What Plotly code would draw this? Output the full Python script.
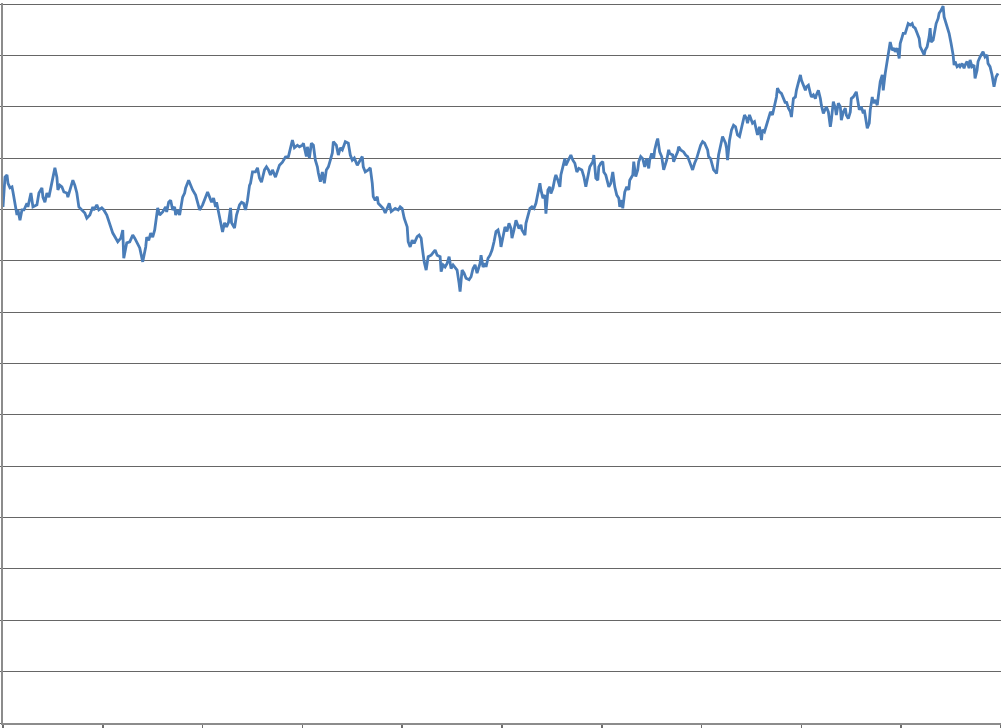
import plotly.graph_objects as go

# Day index (horizontal position of each sample) and series value
day = [
    0, 2, 4, 5, 7, 9, 10, 12, 14, 15, 17, 19, 21, 24, 25, 28, 30, 34, 36, 39, 40, 42, 44, 46, 49, 50,
    52, 54, 55, 57, 59, 61, 64, 65, 68, 70, 72, 74, 76, 79, 82, 84, 87, 90, 91, 94, 96, 99, 101, 104,
    107, 110, 113, 115, 118, 120, 121, 124, 127, 130, 132, 134, 137, 140,
    143, 144, 146, 148, 150, 152, 153, 155, 157, 160, 163, 164, 166, 168, 170, 172, 173, 175, 177, 178,
    180, 182, 183, 186, 188, 190, 193, 195, 197, 200, 203, 205, 207, 209, 211, 213, 214, 216, 218, 220,
    222, 224, 226, 228, 229, 232, 234, 237, 239, 241, 243, 245, 247, 248, 250, 253, 255, 257, 259, 262,
    264, 266, 268, 270, 273, 275, 277, 280, 283,
    286, 288, 290, 292, 295, 297, 300, 301, 304, 305, 307, 309, 311, 313, 315, 316, 318, 320, 322, 324,
    326, 328, 330, 331, 334, 336, 338, 340, 343, 346, 348, 350, 352, 355, 357, 360, 361, 363, 366, 368,
    370, 371, 373, 375, 376, 379, 381, 383, 385, 387, 389, 391, 393, 396, 398, 400, 402, 405, 406, 408,
    410, 412, 415, 417, 419, 420, 422, 424, 426,
    429, 431, 433, 435, 438, 439, 441, 443, 445, 447, 449, 451, 453, 455, 457, 458, 460, 462, 464, 467,
    469, 471, 473, 475, 478, 479, 481, 483, 484, 486, 488, 490, 492, 494, 496, 498, 499, 501, 503, 505,
    507, 509, 510, 512, 514, 517, 519, 520, 523, 524, 526, 528, 530, 532, 534, 536, 538, 539, 541, 543,
    544, 546, 548, 549, 551, 553, 554, 556, 558, 559, 561, 563, 564, 566, 569,
    571, 573, 575, 577, 580, 582, 584, 586, 588, 591, 592, 594, 596, 597, 599, 601, 602, 604, 606, 607,
    609, 611, 613, 615, 617, 618, 620, 621, 623, 625, 627, 628, 631, 632, 634, 636, 637, 639, 641, 643,
    645, 647, 648, 650, 652, 653, 655, 656, 658, 660, 662, 663, 665, 667, 668, 671, 672, 674, 676, 677,
    679, 682, 684, 686, 688, 691, 693, 695, 697, 699, 701, 703, 706, 707, 709, 712,
    714, 715, 717, 719, 721, 724, 725, 726, 728, 730, 732, 734, 736, 738, 740, 743, 745, 746, 748, 750,
    751, 753, 755, 756, 758, 760, 761, 763, 765, 767, 769, 771, 773, 775, 776, 778, 780, 782, 784, 785,
    787, 789, 790, 792, 794, 795, 797, 799, 800, 802, 804, 805, 807, 809, 810, 812, 814, 815, 817, 819,
    820, 822, 824, 825, 827, 829, 830, 832, 834, 835, 837, 839, 840, 842, 844, 845, 847, 849, 850, 852, 855,
    857, 858, 860, 862, 863, 865, 866, 868, 869, 871, 872, 874, 876, 877, 879, 881, 882, 884, 886, 888,
    889, 891, 893, 894, 896, 898, 899, 901, 902, 904, 906, 907, 909, 911, 912, 914, 916, 918, 919, 921,
    923, 924, 926, 928, 929, 930, 932, 933, 935, 937, 938, 940, 942, 943, 945, 947, 948, 950, 952, 953,
    954, 956, 958, 959, 961, 963, 964, 966, 968, 969, 971, 973, 974, 976, 977, 979, 981, 982, 984, 986,
    987, 989, 991, 992, 993, 995, 997,
]

value = [
    100.5, 106.3, 106.7, 105.1, 104.2, 104.4, 103.4, 101.2, 98.9, 99.9, 97.9, 99.9, 99.9, 101.2, 100.5,
    103.2, 100.5, 100.9, 103.2, 104.2, 102.4, 101.4, 103.2, 102.4, 105.3, 106.3, 108.1, 106.3, 103.8,
    104.7, 104.4, 103.4, 103.2, 102.4, 104.7, 105.7, 104.7, 103.2, 100.5, 99.9, 99.3, 98.3, 98.9, 100.5,
    99.9, 100.9, 99.9, 100.3, 99.9, 98.9, 97.0, 95.4, 94.4, 93.7, 94.4, 96.0, 90.5, 93.5, 93.7, 95.0,
    94.4, 93.7, 92.5, 89.8,
    92.7, 94.6, 94.0, 95.4, 94.6, 96.0, 97.9, 100.3, 98.9, 99.5, 100.5, 99.5, 101.4, 101.8, 99.9, 100.5,
    98.9, 99.9, 98.9, 100.3, 102.4, 103.2, 104.2, 105.7, 104.7, 103.8, 102.8, 101.4, 99.9, 100.9, 102.4,
    103.4, 102.4, 101.4, 102.2, 100.5, 101.4, 99.5, 97.9, 95.6, 97.4, 96.6, 97.5, 100.3, 97.4, 96.4,
    98.9, 100.9, 101.4, 101.2, 99.9, 101.8, 104.7, 105.1, 107.3, 107.3, 108.1, 106.1, 105.3, 107.7,
    108.3, 107.7, 106.7, 107.7, 106.3, 107.3, 108.6, 109.2, 110.2,
    110.3, 112.0, 113.5, 112.0, 112.5, 112.2, 112.5, 112.9, 110.3, 112.2, 110.0, 112.9, 112.5, 109.6,
    108.3, 107.1, 105.4, 107.3, 105.1, 107.7, 108.3, 109.6, 111.0, 113.2, 112.5, 110.6, 112.0, 111.6,
    113.2, 112.9, 110.6, 109.6, 110.0, 108.6, 109.3, 110.3, 108.3, 107.3, 107.7, 108.1, 105.1, 102.5,
    101.8, 102.5, 101.2, 100.5, 100.2, 99.3, 100.2, 101.2, 99.6, 99.9, 100.2, 99.9, 100.5, 100.2, 98.3,
    96.6, 93.7, 92.7, 94.0, 93.4, 94.7, 95.0, 94.4, 92.7, 89.8, 88.2, 90.8,
    91.1, 91.5, 92.1, 91.1, 90.8, 87.9, 89.2, 88.8, 89.5, 90.8, 88.5, 89.2, 88.8, 88.2, 85.6, 84.0,
    88.2, 87.6, 86.6, 86.3, 86.9, 88.5, 89.2, 87.6, 89.5, 91.1, 88.8, 89.5, 88.8, 90.5, 91.1, 92.1,
    93.7, 95.7, 96.0, 94.4, 92.7, 95.0, 96.6, 95.7, 97.3, 96.3, 94.4, 96.0, 97.9, 96.3, 97.0, 96.0,
    95.0, 97.3, 98.6, 100.2, 100.5, 100.2, 101.2, 103.1, 105.1, 103.8, 102.2, 102.8, 99.2, 103.8,
    104.4, 103.1, 104.1, 106.1, 106.7, 105.7, 104.4, 106.7, 108.3, 109.9, 108.6, 109.3, 110.6,
    109.6, 109.0, 107.3, 108.0, 107.7, 106.4, 104.4, 106.1, 108.3, 109.3, 110.6, 106.1, 105.7, 108.3,
    109.0, 109.3, 107.3, 106.7, 105.4, 104.4, 105.1, 107.3, 104.4, 102.8, 102.2, 100.5, 101.8, 100.2,
    103.4, 104.4, 103.8, 105.7, 106.7, 109.3, 106.4, 107.7, 109.3, 110.3, 109.9, 108.3, 109.9, 108.0,
    109.6, 110.9, 109.9, 111.6, 113.2, 113.8, 111.2, 110.3, 107.7, 108.3, 109.6, 111.6, 110.9, 110.6,
    109.3, 110.3, 111.2, 112.2, 111.6, 111.2, 110.6, 110.3, 109.3, 107.7, 109.0, 109.9, 111.2, 112.5,
    113.2, 112.9, 111.6, 110.3, 109.9, 107.7,
    107.3, 107.0, 110.6, 112.5, 114.2, 112.9, 111.9, 109.6, 113.5, 115.5, 116.4, 116.1, 114.5, 114.2,
    116.1, 118.4, 117.7, 116.8, 118.4, 117.4, 116.8, 117.1, 115.5, 114.5, 116.1, 113.5, 115.5, 115.1,
    116.4, 117.7, 119.0, 118.4, 120.3, 121.9, 123.6, 122.9, 122.6, 121.6, 120.7, 121.0, 119.7, 119.0,
    118.0, 121.6, 121.9, 123.2, 124.5, 126.2, 125.2, 124.2, 123.2, 123.9, 124.2, 122.6, 121.9, 122.3,
    121.6, 122.3, 123.2, 121.6, 120.3, 118.7, 119.7, 120.0, 119.0, 116.1, 117.4, 121.0, 119.7, 118.4,
    120.7, 120.0, 117.4, 119.0, 119.7, 118.4, 117.7, 119.0, 121.6, 121.9, 122.9,
    120.0, 119.4, 120.0, 118.7, 119.4, 117.4, 115.8, 116.8, 119.4, 121.9, 120.7, 121.3, 120.3, 121.9,
    124.9, 126.2, 123.2, 126.5, 128.8, 131.7, 132.6, 131.0, 131.4, 130.7, 131.4, 129.4, 132.3, 133.6,
    134.3, 134.3, 135.6, 136.2, 135.9, 136.2, 135.6, 135.3, 134.3, 133.3, 131.7, 130.7, 130.1, 131.0,
    131.7, 133.6, 135.3, 132.6, 133.0, 134.0, 136.2, 137.2, 138.2, 138.8, 139.6, 137.5, 136.2, 134.9,
    134.3, 132.3, 130.1, 128.1, 128.8, 127.8, 128.1, 127.8, 128.4, 127.5, 128.1, 128.8, 127.5, 129.1,
    127.8, 128.1, 125.5, 127.1, 128.8, 129.7, 130.4, 130.7, 129.7, 130.1, 128.4, 127.8, 126.2, 124.9,
    123.9, 125.8, 126.5,
]

x_ticks = [0, 100, 200, 300, 400, 500, 600, 700, 800, 900, 1000]

fig = go.Figure()
fig.add_trace(go.Scatter(
    x=day, y=value, mode="lines",
    line=dict(color="#4a7db8", width=2.8),
    hoverinfo="skip", showlegend=False, cliponaxis=False,
))

fig.update_layout(
    width=1001, height=728,
    margin=dict(l=3, r=0, t=3, b=5),
    paper_bgcolor="white", plot_bgcolor="white",
    showlegend=False,
)
fig.update_xaxes(
    range=[0, 1000], tickvals=x_ticks, showticklabels=False,
    showgrid=False, zeroline=False,
    showline=True, linecolor="#8c8c8c", linewidth=2,
    ticks="outside", ticklen=6, tickwidth=1.5, tickcolor="#6e6e6e",
)
fig.update_yaxes(
    range=[0, 140.2], dtick=10, tick0=0, showticklabels=False,
    showgrid=True, gridcolor="#666666", gridwidth=1,
    zeroline=False,
    showline=True, linecolor="#8c8c8c", linewidth=2,
    ticks="outside", ticklen=4, tickwidth=1, tickcolor="#666666",
)

fig.write_html(
    "out.html",
    config={"displayModeBar": False, "staticPlot": True},
    post_script="document.body.style.margin='0';document.body.style.overflow='hidden';",
)
